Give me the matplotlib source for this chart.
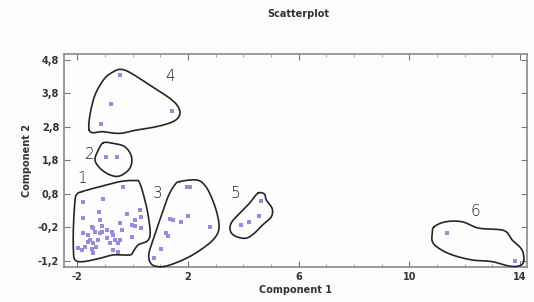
import numpy as np
import matplotlib
matplotlib.use("Agg")
import matplotlib.pyplot as plt
from matplotlib.ticker import FuncFormatter, MultipleLocator

# ---- data: points (Component 1, Component 2) ----
c1_x = [-0.34, -1.06, -1.78, 0.26, -1.21, -1.81, -1.18, -0.22, 0.08, 0.32, -0.46, -1.48,
        -1.78, -1.60, -1.42, -1.36, -1.12, -1.12, -0.94, -0.76, -0.70, -0.40, -0.04, 0.08,
        0.32, -1.54, -1.24, -0.94, -0.64, -0.46, -1.42, -0.82, -0.52, -0.04, -1.72, -1.96,
        -1.84, -1.48, -1.33, -1.42, -0.70, -0.52, -1.18, -1.60]
c1_y = [1.01, 0.64, 0.54, 0.31, 0.26, 0.07, 0.01, 0.18, 0.01, 0.11, -0.07, -0.19,
        -0.38, -0.43, -0.23, -0.33, -0.16, -0.33, -0.28, -0.33, -0.43, -0.28, -0.13, -0.18,
        -0.23, -0.58, -0.58, -0.53, -0.58, -0.58, -0.68, -0.68, -0.68, -0.48, -0.78, -0.83,
        -0.88, -0.86, -0.78, -0.96, -0.88, -0.93, -0.38, -0.63]
c2_x = [-0.98, -0.56]
c2_y = [1.90, 1.90]
c3_x = [1.96, 2.08, 2.00, 1.34, 1.46, 1.74, 2.78, 1.22, 1.28, 1.02, 0.77]
c3_y = [0.99, 0.99, 0.14, 0.04, 0.01, -0.05, -0.20, -0.38, -0.45, -0.85, -1.13]
c4_x = [-0.46, -0.79, 1.42, -1.15]
c4_y = [4.34, 3.47, 3.27, 2.87]
c5_x = [4.65, 4.56, 4.19, 3.90]
c5_y = [0.59, 0.14, -0.04, -0.13]
c6_x = [11.37, 13.83]
c6_y = [-0.36, -1.21]

# ---- hand-drawn group outlines (data coordinates) ----
outline_1 = [(-1.84, 0.86), (-1.18, 1.01), (-0.46, 1.16), (0.08, 1.19), (0.26, 1.11),
             (0.50, 0.41), (0.62, -0.19), (0.62, -0.48), (0.50, -0.63), (0.20, -0.73),
             (0.02, -0.93), (-0.10, -1.03), (-0.70, -1.03), (-1.18, -1.13), (-1.78, -1.23),
             (-2.08, -1.18), (-2.14, -0.88), (-2.14, -0.19), (-2.08, 0.61), (-2.01, 0.79)]
outline_2 = [(-1.06, 2.32), (-0.70, 2.30), (-0.28, 2.20), (-0.04, 1.90), (-0.10, 1.56),
             (-0.46, 1.33), (-0.82, 1.36), (-1.18, 1.56), (-1.36, 1.81), (-1.24, 2.10)]
outline_3 = [(1.70, 1.16), (2.30, 1.21), (2.60, 1.06), (2.84, 0.71), (3.05, 0.21),
             (3.12, -0.23), (2.96, -0.53), (2.54, -0.83), (1.94, -1.13), (1.22, -1.36),
             (0.80, -1.36), (0.62, -1.23), (0.59, -0.98), (0.74, -0.58), (0.98, 0.01),
             (1.28, 0.71), (1.52, 1.06)]
outline_4 = [(-1.57, 2.70), (-1.42, 3.60), (-1.06, 4.19), (-0.70, 4.44), (-0.40, 4.51),
             (-0.04, 4.39), (0.62, 4.04), (1.34, 3.65), (1.64, 3.40), (1.70, 3.15),
             (1.46, 2.95), (0.86, 2.80), (0.14, 2.70), (-0.46, 2.60), (-1.06, 2.65)]
outline_5 = [(4.52, 0.81), (4.76, 0.79), (4.83, 0.61), (5.04, 0.36), (5.01, 0.11),
             (4.70, -0.13), (4.40, -0.38), (4.10, -0.53), (3.74, -0.48), (3.54, -0.33),
             (3.56, -0.08), (3.86, 0.21), (4.22, 0.51)]
outline_6 = [(10.89, -0.19), (11.31, -0.04), (11.91, -0.04), (12.51, -0.23), (13.41, -0.30),
             (13.71, -0.58), (14.07, -0.88), (14.13, -1.23), (13.95, -1.36), (13.59, -1.36),
             (12.99, -1.23), (12.27, -1.18), (11.55, -1.03), (11.06, -0.83), (10.83, -0.63),
             (10.83, -0.38)]
group_labels = ["1", "2", "3", "4", "5", "6"]
label_x = [-1.84, -1.54, 0.92, 1.34, 3.72, 12.39]
label_y = [1.26, 1.96, 0.81, 4.29, 0.81, 0.26]

x_ticks = [-2, 2, 6, 10, 14]
y_ticks = [-1.2, -0.2, 0.8, 1.8, 2.8, 3.8, 4.8]


def closed_spline(pts, n=20):
    p = np.asarray(pts, dtype=float)
    m = len(p)
    out = []
    for i in range(m):
        p0, p1, p2, p3 = p[(i - 1) % m], p[i], p[(i + 1) % m], p[(i + 2) % m]
        t = np.linspace(0, 1, n, endpoint=False)[:, None]
        seg = 0.5 * ((2 * p1) + (-p0 + p2) * t + (2 * p0 - 5 * p1 + 4 * p2 - p3) * t ** 2
                     + (-p0 + 3 * p1 - 3 * p2 + p3) * t ** 3)
        out.append(seg)
    out = np.vstack(out)
    return np.vstack([out, out[:1]])


fig = plt.figure(figsize=(5.34, 3.02), dpi=100)
fig.patch.set_facecolor("#fcfcfc")
ax = fig.add_axes([64 / 534, 35 / 302, 463 / 534, 213 / 302])
ax.set_facecolor("#fdfdfd")

pt_color = "#958ddb"
for xs, ys in [(c1_x, c1_y), (c2_x, c2_y), (c3_x, c3_y), (c4_x, c4_y), (c5_x, c5_y), (c6_x, c6_y)]:
    ax.scatter(xs, ys, s=5, marker="s", color=pt_color, linewidths=0, zorder=3)

for ol in [outline_1, outline_2, outline_3, outline_4, outline_5, outline_6]:
    c = closed_spline(ol)
    ax.plot(c[:, 0], c[:, 1], color="#262626", lw=1.2, zorder=4, solid_capstyle="round",
            clip_on=False)

for lab, lx, ly in zip(group_labels, label_x, label_y):
    ax.text(lx, ly, lab, fontsize=11, color="#262626", ha="center", va="center",
            family="DejaVu Sans", fontweight="light")

ax.set_xlim(-2.48, 14.25)
ax.set_ylim(-1.39, 4.97)
ax.set_xticks(x_ticks)
ax.set_yticks(y_ticks)
ax.xaxis.set_minor_locator(MultipleLocator(1))
fmt = FuncFormatter(lambda v, p: ("%g" % round(v, 1)).replace(".", ","))
ax.xaxis.set_major_formatter(fmt)
ax.yaxis.set_major_formatter(fmt)
ax.tick_params(axis="both", which="major", direction="in", length=4, width=0.8,
               color="#777777", labelsize=7, labelcolor="#333333", top=True, right=True)
ax.tick_params(axis="both", which="minor", direction="in", length=2, width=0.6,
               color="#999999", top=True)
for lbl in ax.get_xticklabels() + ax.get_yticklabels():
    lbl.set_fontweight("bold")
for s in ax.spines.values():
    s.set_color("#8a8a8a")
    s.set_linewidth(1.2)

ax.set_xlabel("Component 1", fontsize=7, fontweight="bold", color="#333333", labelpad=2)
ax.set_ylabel("Component 2", fontsize=7, fontweight="bold", color="#333333", labelpad=4)
fig.text(298 / 534, 1 - 14 / 302, "Scatterplot", fontsize=7, fontweight="bold",
         color="#333333", ha="center", va="center")

fig.savefig("out.png", dpi=100, facecolor=fig.get_facecolor())
